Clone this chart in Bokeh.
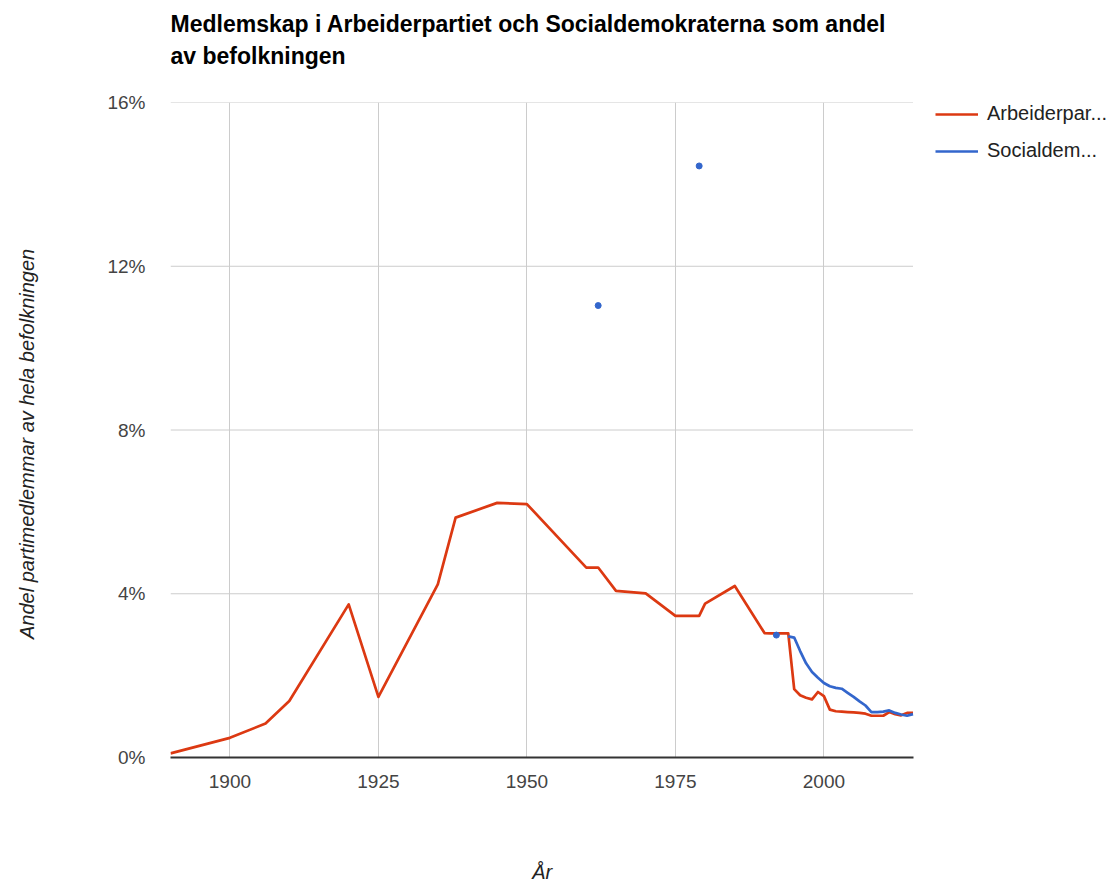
from bokeh.plotting import figure
from bokeh.models import Legend, LegendItem, FixedTicker, PrintfTickFormatter, Range1d
from bokeh.embed import file_html
from bokeh.resources import INLINE

# Data (share of population, percent)
ap_years = [1890, 1900, 1906, 1910, 1920, 1925, 1935, 1938, 1945, 1950, 1960, 1962,
            1965, 1970, 1975, 1979, 1980, 1985, 1990, 1991, 1992, 1993, 1994, 1995,
            1996, 1997, 1998, 1999, 2000, 2001, 2002, 2003, 2004, 2005, 2006, 2007,
            2008, 2009, 2010, 2011, 2012, 2013, 2014, 2015]
ap_values = [0.10, 0.48, 0.83, 1.38, 3.74, 1.48, 4.23, 5.86, 6.22, 6.19, 4.64, 4.64,
             4.07, 4.01, 3.46, 3.46, 3.76, 4.19, 3.04, 3.03, 3.03, 3.03, 3.03, 1.67,
             1.52, 1.46, 1.42, 1.60, 1.50, 1.17, 1.13, 1.12, 1.11, 1.10, 1.09, 1.07,
             1.02, 1.02, 1.02, 1.11, 1.06, 1.03, 1.09, 1.09]

sap_point_years = [1962, 1979, 1992]
sap_point_values = [11.04, 14.45, 2.99]
sap_years = [1994, 1995, 1996, 1997, 1998, 1999, 2000, 2001, 2002, 2003, 2004, 2005,
             2006, 2007, 2008, 2009, 2010, 2011, 2012, 2013, 2014, 2015]
sap_values = [2.96, 2.93, 2.60, 2.30, 2.09, 1.95, 1.82, 1.74, 1.70, 1.68, 1.58, 1.48,
              1.37, 1.27, 1.11, 1.11, 1.12, 1.15, 1.09, 1.05, 1.02, 1.06]

x_ticks = [1900, 1925, 1950, 1975, 2000]
y_ticks = [0, 4, 8, 12, 16]
x_start, x_end = 1890, 2015
series_names = ["Arbeiderpar...", "Socialdem..."]
title_lines = ["Medlemskap i Arbeiderpartiet och Socialdemokraterna som andel",
               "av befolkningen"]
x_title = "År"
y_title = "Andel partimedlemmar av hela befolkningen"

RED = "#dc3912"
BLUE = "#3366cc"
FONT = "Liberation Sans"
NBSP = "\u00a0"

W, H = 1119, 887
LEFT, TOP, DATA_RIGHT, BOTTOM = 170, 102, 912.5, 757
FRAME_W = W - LEFT
FRAME_H = BOTTOM - TOP
px_per_year = (DATA_RIGHT - LEFT) / (x_end - x_start)
view_end = x_start + FRAME_W / px_per_year

p = figure(width=W, height=H, output_backend="svg", toolbar_location=None,
           x_range=Range1d(x_start, view_end), y_range=Range1d(0, 16),
           min_border_left=LEFT, min_border_right=0, min_border_top=TOP,
           min_border_bottom=H - BOTTOM)

# title: two visible lines plus an empty spacer line towards the plot
p.title.text = "\n".join(title_lines) + "\n" + NBSP
p.title.text_font = FONT
p.title.text_font_size = "23px"
p.title.text_font_style = "bold"
p.title.text_color = "#000000"
p.title.text_line_height = 1.24
p.title.offset = 0
p.title.standoff = 2

p.outline_line_color = None
p.background_fill_color = "white"
p.border_fill_color = "white"

# grids: vertical grid from ticker, horizontal grid drawn only over the data span
p.xgrid.ticker = FixedTicker(ticks=x_ticks)
p.xgrid.grid_line_color = "#cccccc"
p.xgrid.grid_line_width = 1
p.ygrid.grid_line_color = None
gy = [t for t in y_ticks if t > 0]
p.segment(x0=[x_start] * len(gy), x1=[x_end] * len(gy), y0=gy, y1=gy,
          line_color="#cccccc", line_width=1)

# x axis
xa = p.xaxis[0]
xa.ticker = FixedTicker(ticks=x_ticks)
xa.bounds = (x_start, x_end)
xa.axis_line_color = "#333333"
xa.axis_line_width = 2
xa.major_tick_line_color = None
xa.minor_tick_line_color = None
xa.major_label_text_font = FONT
xa.major_label_text_font_size = "19px"
xa.major_label_text_color = "#444444"
xa.major_label_standoff = 11
# label padded on the right so that it is centred under the data span
pad = int(round((FRAME_W - (DATA_RIGHT - LEFT)) / 5.556))
xa.axis_label = x_title + NBSP * pad
xa.axis_label_text_font = FONT
xa.axis_label_text_font_size = "20px"
xa.axis_label_text_font_style = "italic"
xa.axis_label_text_color = "#222222"
xa.axis_label_standoff = 70

# y axis
ya = p.yaxis[0]
ya.ticker = FixedTicker(ticks=y_ticks)
ya.formatter = PrintfTickFormatter(format="%d%%")
ya.axis_line_color = None
ya.major_tick_line_color = None
ya.minor_tick_line_color = None
ya.major_label_text_font = FONT
ya.major_label_text_font_size = "19px"
ya.major_label_text_color = "#444444"
ya.major_label_standoff = 19
ya.axis_label = y_title + NBSP * 5
ya.axis_label_text_font = FONT
ya.axis_label_text_font_size = "20px"
ya.axis_label_text_font_style = "italic"
ya.axis_label_text_color = "#222222"
ya.axis_label_standoff = 66

r_ap = p.line(ap_years, ap_values, line_color=RED, line_width=2.7, line_join="round")
r_sap = p.line(sap_years, sap_values, line_color=BLUE, line_width=2.7, line_join="round")
p.scatter(sap_point_years, sap_point_values, size=6, fill_color=BLUE, line_color=BLUE)

LEG_H = 22 + 14 + 22
legend = Legend(items=[LegendItem(label=series_names[0], renderers=[r_ap]),
                       LegendItem(label=series_names[1], renderers=[r_sap])],
                location=(935 - LEFT, FRAME_H - LEG_H - 2), orientation="vertical",
                border_line_color=None, background_fill_alpha=0,
                margin=0, padding=0, spacing=14,
                glyph_width=43, glyph_height=22, label_height=22,
                label_standoff=9, label_text_font=FONT,
                label_text_font_size="20px", label_text_color="#222222")
p.add_layout(legend, "center")

open("out.html", "w").write(file_html(p, INLINE))
